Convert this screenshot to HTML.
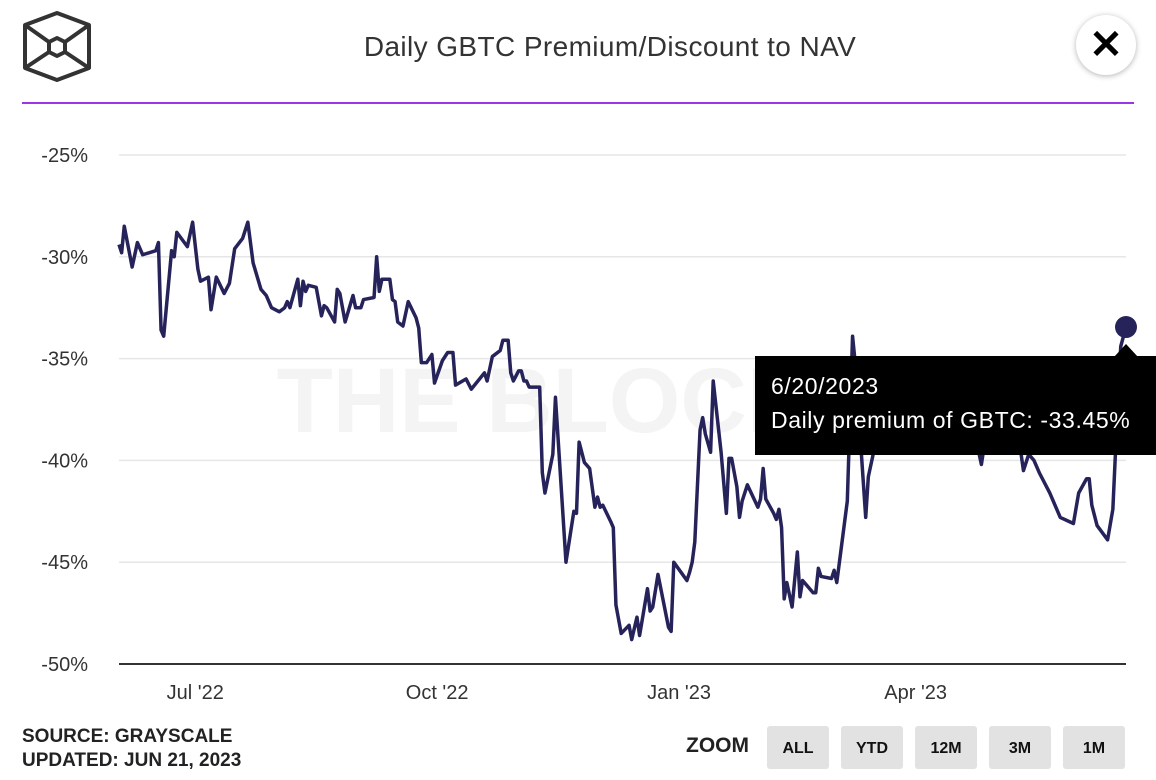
<!DOCTYPE html>
<html><head><meta charset="utf-8"><style>
body{margin:0;width:1156px;height:780px;background:#fff;font-family:"Liberation Sans",sans-serif;overflow:hidden;position:relative}
.btn{position:absolute;top:726px;width:62px;height:43px;background:#e2e2e2;border-radius:3px;font-weight:bold;font-size:16px;color:#111;text-align:center;line-height:45px}
</style></head><body>
<svg width="120" height="100" style="position:absolute;left:0;top:0">
<g fill="none" stroke="#333" stroke-width="4" stroke-linejoin="round">
<polygon points="57,13 89,25 89,68 57,80 25,68 25,25"/>
<polygon points="57,38 65,42 65,52 57,56 49,52 49,42"/>
<line x1="25" y1="25" x2="49" y2="42"/><line x1="89" y1="25" x2="65" y2="42"/>
<line x1="25" y1="68" x2="49" y2="52"/><line x1="89" y1="68" x2="65" y2="52"/>
</g></svg>
<div style="position:absolute;left:0;width:1220px;top:31px;text-align:center;font-size:28px;letter-spacing:0.4px;color:#333">Daily GBTC Premium/Discount to NAV</div>
<div style="position:absolute;left:1076px;top:15px;width:60px;height:60px;border-radius:50%;background:#fff;box-shadow:0 1px 6px rgba(0,0,0,.3);text-align:center;line-height:60px;font-size:40px;font-weight:bold;color:#000">✕</div>
<div style="position:absolute;left:22px;top:102px;width:1112px;height:2px;background:#9b35e6"></div>
<svg id="chart" width="1156" height="720" style="position:absolute;left:0;top:0"></svg>
<div style="position:absolute;left:22px;top:726px;font-size:19px;font-weight:bold;color:#222">SOURCE: GRAYSCALE</div>
<div style="position:absolute;left:22px;top:750px;font-size:19px;font-weight:bold;color:#222">UPDATED: JUN 21, 2023</div>
<div style="position:absolute;left:686px;top:734px;font-size:21px;font-weight:bold;color:#222">ZOOM</div>
<div class="btn" style="left:767px">ALL</div>
<div class="btn" style="left:841px">YTD</div>
<div class="btn" style="left:915px">12M</div>
<div class="btn" style="left:989px">3M</div>
<div class="btn" style="left:1063px">1M</div>
<script>
const days=[0,1,2,5,7,9,14,15,16,17,20,21,22,26,28,30,31,34,35,37,40,42,44,47,49,51,54,56,58,61,63,64,65,68,69,70,71,72,75,77,78,79,82,83,84,86,89,90,92,93,97,98,99,100,103,104,105,106,108,110,113,114,115,117,119,120,123,125,127,128,132,134,139,140,142,145,146,148,149,150,152,153,154,155,156,160,161,162,165,166,170,173,174,175,177,179,181,182,183,184,187,188,189,191,194,195,197,198,201,202,203,205,209,210,211,216,217,218,219,221,222,223,225,226,229,231,232,233,235,236,237,239,243,244,245,246,249,250,251,252,253,254,256,258,259,260,264,265,266,267,271,272,273,275,277,279,280,284,285,287,291,297,303,308,314,320,324,327,328,330,335,340,343,344,346,348,350,354,358,363,365,368,369,370,372,376,378,379,381,383];
const values=[-29.4,-29.8,-28.5,-30.5,-29.3,-29.9,-29.7,-29.3,-33.6,-33.9,-29.7,-30.0,-28.8,-29.5,-28.3,-30.6,-31.2,-31.0,-32.6,-31.0,-31.8,-31.3,-29.6,-29.1,-28.3,-30.3,-31.6,-31.9,-32.5,-32.7,-32.5,-32.2,-32.5,-31.1,-32.4,-31.2,-31.7,-31.4,-31.5,-32.9,-32.4,-32.5,-33.2,-31.6,-31.8,-33.2,-31.9,-32.5,-32.5,-32.1,-32.0,-30.0,-31.7,-31.1,-31.1,-32.1,-32.2,-33.2,-33.4,-32.2,-33.0,-33.5,-35.2,-35.2,-34.8,-36.2,-35.1,-34.7,-34.7,-36.3,-36.0,-36.5,-35.7,-36.1,-34.9,-34.6,-34.1,-34.1,-35.7,-36.1,-35.6,-35.6,-36.1,-36.1,-36.4,-36.4,-40.6,-41.6,-39.7,-36.9,-45.0,-42.5,-42.6,-39.1,-40.1,-40.4,-42.3,-41.8,-42.3,-42.2,-43.0,-43.3,-47.1,-48.5,-48.1,-48.8,-47.7,-48.6,-46.3,-47.4,-47.2,-45.6,-48.2,-48.4,-45.0,-45.9,-45.5,-45.0,-44.0,-38.5,-37.9,-38.7,-39.6,-36.1,-39.6,-42.6,-39.9,-39.9,-41.3,-42.8,-42.0,-41.2,-42.3,-41.9,-40.4,-41.9,-42.6,-42.9,-42.4,-43.3,-46.8,-46.0,-47.2,-44.5,-46.7,-45.9,-46.5,-46.5,-45.3,-45.7,-45.8,-45.4,-46.0,-44.0,-42.0,-33.9,-35.2,-42.8,-40.8,-39.6,-38.0,-36.8,-37.3,-36.3,-37.5,-37.0,-38.3,-39.6,-40.2,-38.5,-37.8,-38.4,-39.6,-40.5,-39.7,-40.0,-40.6,-41.6,-42.8,-43.1,-41.6,-40.9,-40.9,-42.2,-43.2,-43.9,-42.4,-39.6,-34.4,-33.45];
const yTicks=[-25,-30,-35,-40,-45,-50];
const xTickLabels=["Jul '22","Oct '22","Jan '23","Apr '23"];
const xTickDays=[29,121,213,303];
const NS="http://www.w3.org/2000/svg",svg=document.getElementById('chart');
const X=d=>119+d*(1007/383), Y=v=>155+(-25-v)*(509/25);
function mk(t,a){const e=document.createElementNS(NS,t);for(const k in a)e.setAttribute(k,a[k]);svg.appendChild(e);return e;}
const wm=mk('text',{x:545,y:432,'text-anchor':'middle','font-size':92,'font-weight':'bold',fill:'#f4f4f4','font-family':'Liberation Sans'});


wm.textContent='THE BLOCK';
yTicks.forEach(v=>{
 const l=mk('line',{x1:119,x2:1126,y1:Y(v),y2:Y(v),stroke:v===-50?'#333':'#e6e6e6','stroke-width':v===-50?2:1.5});
 
 
 const t=mk('text',{x:88,y:Y(v)+7,'text-anchor':'end','font-size':20,fill:'#333','font-family':'Liberation Sans'});
 
 
 t.textContent=v+'%';
});
xTickLabels.forEach((s,i)=>{
 const t=mk('text',{x:X(xTickDays[i]),y:699,'text-anchor':'middle','font-size':20,fill:'#333','font-family':'Liberation Sans'});
 
 
 t.textContent=s;
});
const p=mk('polyline',{points:days.map((d,i)=>X(d)+','+Y(values[i])).join(' '),fill:'none',stroke:'#26235a','stroke-width':3.5,'stroke-linejoin':'round'});


const n=days.length-1;
const tip=mk('rect',{x:755,y:356,width:401,height:99,fill:'#000'});


const ar=mk('polygon',{points:`${X(days[n])-12},357 ${X(days[n])},344 ${X(days[n])+12},357`,fill:'#000'});


const t1=mk('text',{x:771,y:394,'font-size':23,'letter-spacing':0.6,fill:'#fff','font-family':'Liberation Sans'});


t1.textContent='6/20/2023';
const t2=mk('text',{x:771,y:428,'font-size':23,'letter-spacing':0.6,fill:'#fff','font-family':'Liberation Sans'});


t2.textContent='Daily premium of GBTC: '+values[n].toFixed(2)+'%';
const dot=mk('circle',{cx:X(days[n]),cy:Y(values[n]),r:11,fill:'#26235a'});


</script>
</body></html>
